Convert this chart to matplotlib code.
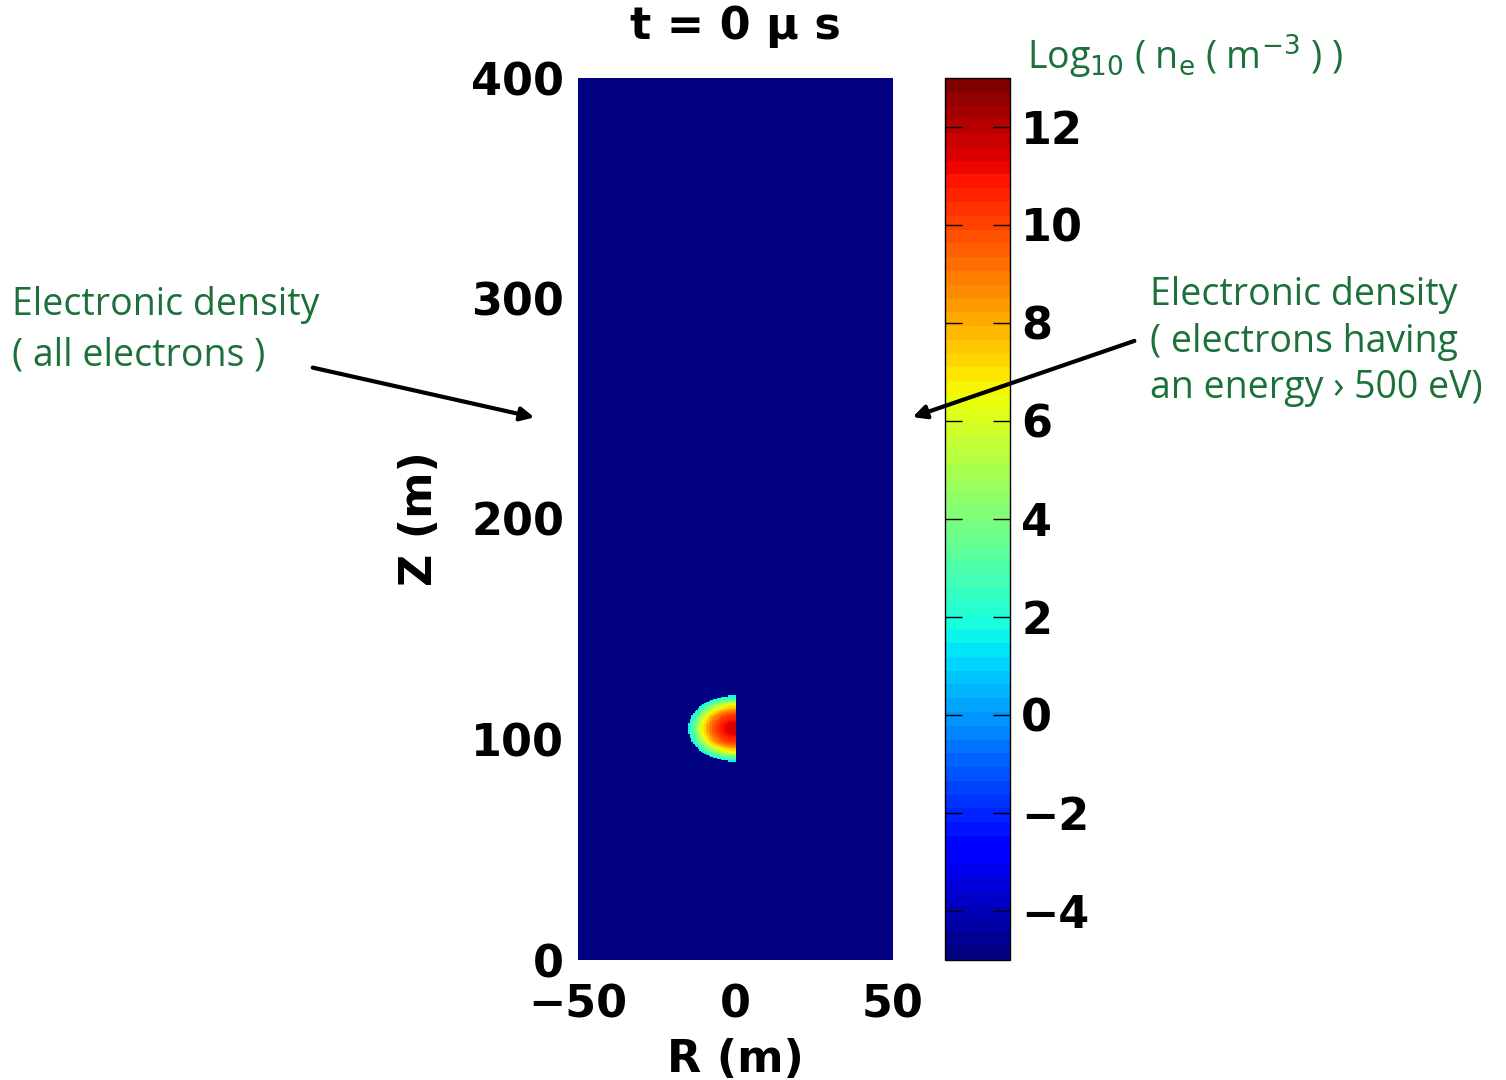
"""Electron density map at t = 0 us (log10 n_e), jet colormap with colorbar."""

import numpy as np
import matplotlib
matplotlib.use("Agg")
from matplotlib import pyplot as plt
from matplotlib.patches import FancyArrowPatch

# ------------------------------------------------------------------ #
#  Data
# ------------------------------------------------------------------ #
r_range = [-50, 50]
z_range = [0, 400]
clim = [-5, 13]
background_level = -5.0

# blob: half disc (R <= 0) centred on the axis
blob_center_z = 105.0
blob_radius = 15.0
# radial profile of log10(n_e), radius as fraction of blob_radius
profile_r = [0.0, 0.2, 0.4, 0.55, 0.7, 0.85, 1.0]
profile_val = [11.6, 11.3, 10.2, 8.8, 6.6, 4.0, 1.4]

x_ticks = [-50, 0, 50]
y_ticks = [0, 100, 200, 300, 400]
cbar_ticks = [-4, -2, 0, 2, 4, 6, 8, 10, 12]

GREEN = "#1b7139"
TICK_FONT = dict(family="DejaVu Sans", weight="bold", size=32)
NOTE_FONT = dict(family="Open Sans", size=27, color=GREEN)

# ------------------------------------------------------------------ #
#  Build the field
# ------------------------------------------------------------------ #
r_edges = np.linspace(r_range[0], r_range[1], 201)
z_edges = np.linspace(z_range[0], z_range[1], 801)
rc = 0.5 * (r_edges[1:] + r_edges[:-1])
zc = 0.5 * (z_edges[1:] + z_edges[:-1])
RR, ZZ = np.meshgrid(rc, zc)
dist = np.hypot(RR, ZZ - blob_center_z) / blob_radius
field = np.full(RR.shape, background_level)
inside = (dist <= 1.0) & (RR <= 0)
field[inside] = np.interp(dist[inside], profile_r, profile_val)

# ------------------------------------------------------------------ #
#  Figure
# ------------------------------------------------------------------ #
fig = plt.figure(figsize=(15.06, 10.8), dpi=100)
ax = fig.add_axes([578 / 1506, 1 - 960 / 1080, 315 / 1506, 882 / 1080])
cax = fig.add_axes([945 / 1506, 1 - 960 / 1080, 65 / 1506, 882 / 1080])

cmap = plt.get_cmap("jet", 64)
mesh = ax.pcolormesh(r_edges, z_edges, field, cmap=cmap,
                     vmin=clim[0], vmax=clim[1], shading="flat")
ax.set_xlim(r_range)
ax.set_ylim(z_range)
ax.set_xticks(x_ticks)
ax.set_yticks(y_ticks)
ax.set_xticklabels(["\u221250", "0", "50"], **TICK_FONT)
ax.set_yticklabels([str(v) for v in y_ticks], **TICK_FONT)
ax.tick_params(axis="both", length=0)
ax.tick_params(axis="x", pad=17)
ax.tick_params(axis="y", pad=10)
for s in ax.spines.values():
    s.set_visible(False)

ax.set_xlabel("R (m)", **TICK_FONT, labelpad=8)
ax.set_ylabel("Z (m)", **TICK_FONT, labelpad=22)
ax.set_title("t = 0 \u03bc s", **TICK_FONT, pad=28)

cb = fig.colorbar(mesh, cax=cax, ticks=cbar_ticks)
cb.ax.set_yticklabels([str(v).replace("-", "\u2212") for v in cbar_ticks], **TICK_FONT)
cb.ax.tick_params(axis="y", direction="in", length=12, width=1,
                  left=True, right=True, pad=8)
cb.outline.set_linewidth(1.0)

fig.text(1027 / 1506, 1 - 57 / 1080,
         r"Log$_{10}$ ( n$_\mathrm{e}$ ( m$^{-3}$ ) )",
         va="center", ha="left", **NOTE_FONT)

# annotations
fig.text(12 / 1506, 1 - 286 / 1080, "Electronic density\n( all electrons )",
         va="top", ha="left", linespacing=1.42, **NOTE_FONT)
fig.text(1150 / 1506, 1 - 276 / 1080,
         "Electronic density\n( electrons having\nan energy \u203a 500 eV)",
         va="top", ha="left", linespacing=1.3, **NOTE_FONT)

for start, end in [((310, 367), (537, 418)), ((1137, 340), (910, 418))]:
    arr = FancyArrowPatch((start[0] / 1506, 1 - start[1] / 1080),
                          (end[0] / 1506, 1 - end[1] / 1080),
                          transform=fig.transFigure, arrowstyle="-|>",
                          mutation_scale=20, linewidth=3, color="black")
    fig.add_artist(arr)

fig.savefig("out.png", dpi=100)
